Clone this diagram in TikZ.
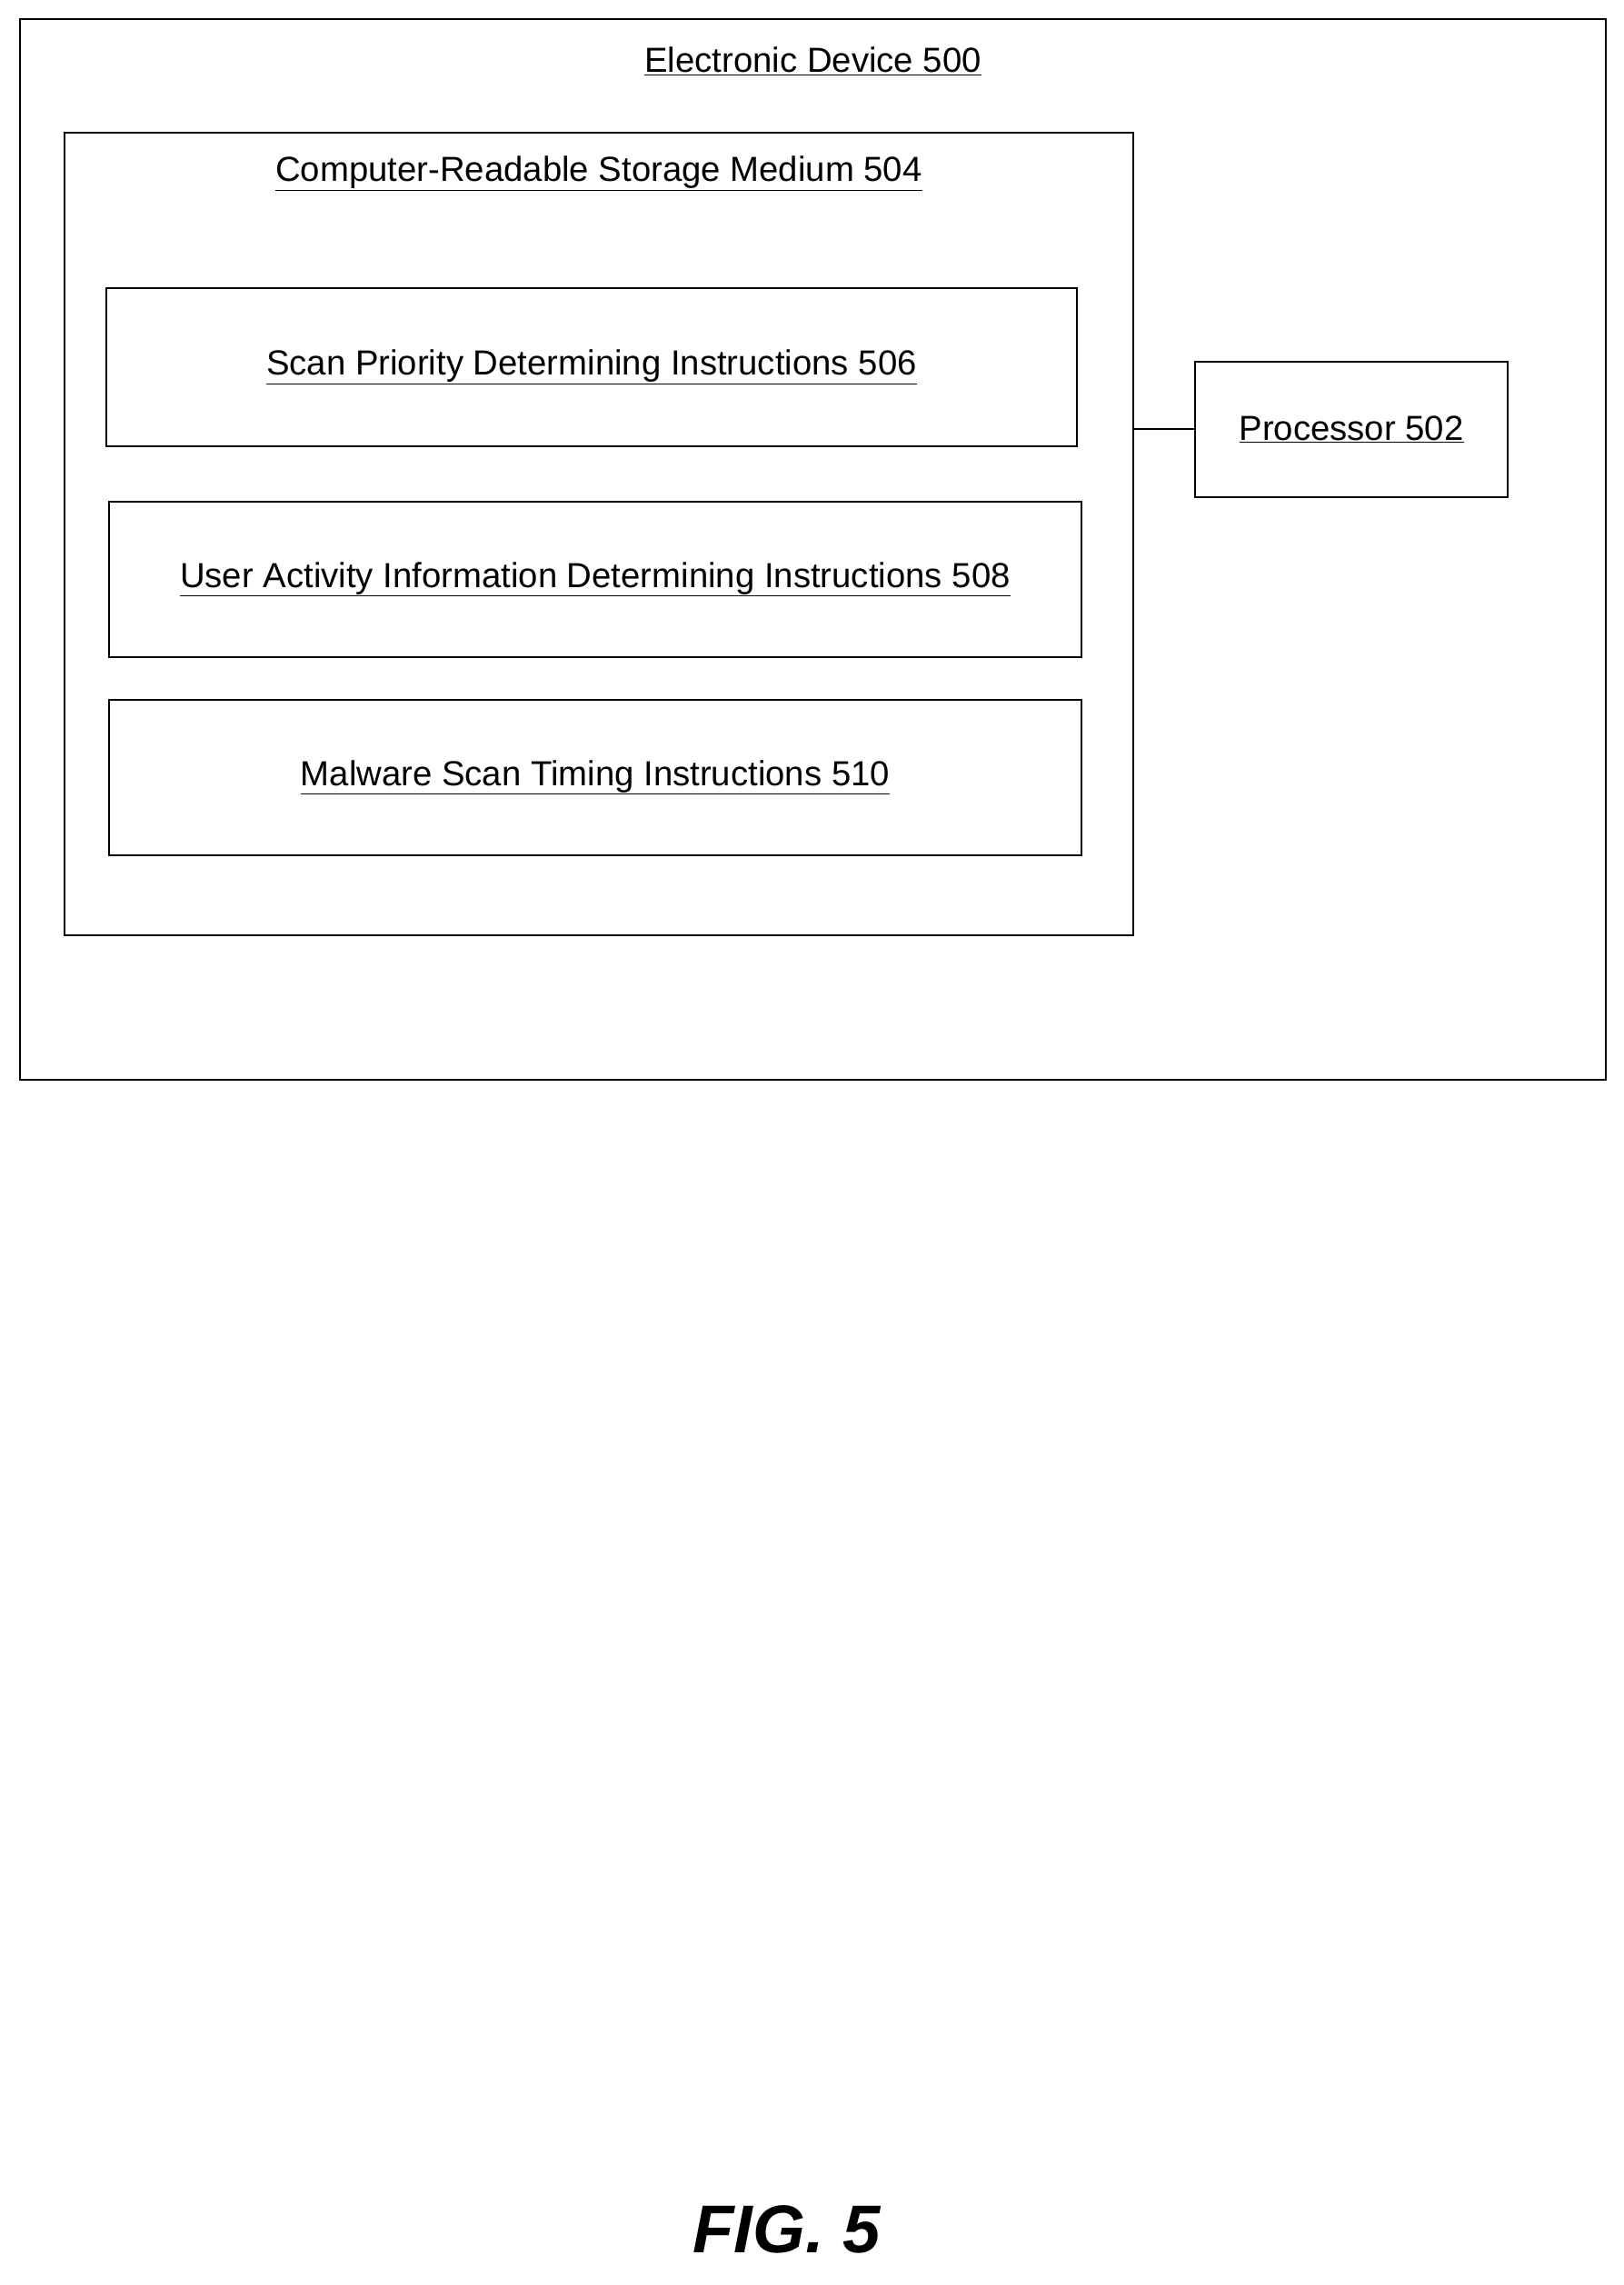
\documentclass[tikz,border=0pt]{standalone}
\usepackage{fontspec}
\setmainfont{Liberation Sans}
\begin{document}
\begin{tikzpicture}[x=0.05cm, y=-0.05cm,
    box/.style = {draw, line width=1.8pt, inner sep=0pt},
    lbl/.style = {font=\fontsize{34}{40}\selectfont, inner sep=0pt}]
        \useasboundingbox (0, 0) rectangle (1114, 1568);
        % outer device
        \node[box, minimum width=1088*0.05cm, minimum height=728*0.05cm] (dev) at (558, 377) {};
        \node[lbl] (devlbl) at (558, 42) {\underline{Electronic Device 500}};
        % storage medium
        \node[box, minimum width=734*0.05cm, minimum height=551*0.05cm] (sto) at (411, 366.5) {};
        \node[lbl] (stolbl) at (411, 119) {\underline{Computer-Readable Storage Medium 504}};
        % instruction boxes
        \node[box, minimum width=666*0.05cm, minimum height=108*0.05cm] (spd) at (406, 252) {};
        \node[lbl] at (spd.center) {\underline{Scan Priority Determining Instructions 506}};
        \node[box, minimum width=667*0.05cm, minimum height=107*0.05cm] (uai) at (408.5, 397.5) {};
        \node[lbl] at (uai.center) {\underline{User Activity Information Determining Instructions 508}};
        \node[box, minimum width=667*0.05cm, minimum height=107*0.05cm] (mst) at (408.5, 533.5) {};
        \node[lbl] at (mst.center) {\underline{Malware Scan Timing Instructions 510}};
        % processor
        \node[box, minimum width=215*0.05cm, minimum height=93*0.05cm] (proc) at (927.5, 294.5) {};
        \node[lbl] at (proc.center) {\underline{Processor 502}};
        \draw[line width=1.8pt] (proc.west) -- (proc.west -| sto.east);
        % figure label
        \node[font=\fontsize{66}{74}\selectfont\bfseries\itshape] (fig) at (540, 1530) {FIG. 5};
    \end{tikzpicture}
\end{document}
